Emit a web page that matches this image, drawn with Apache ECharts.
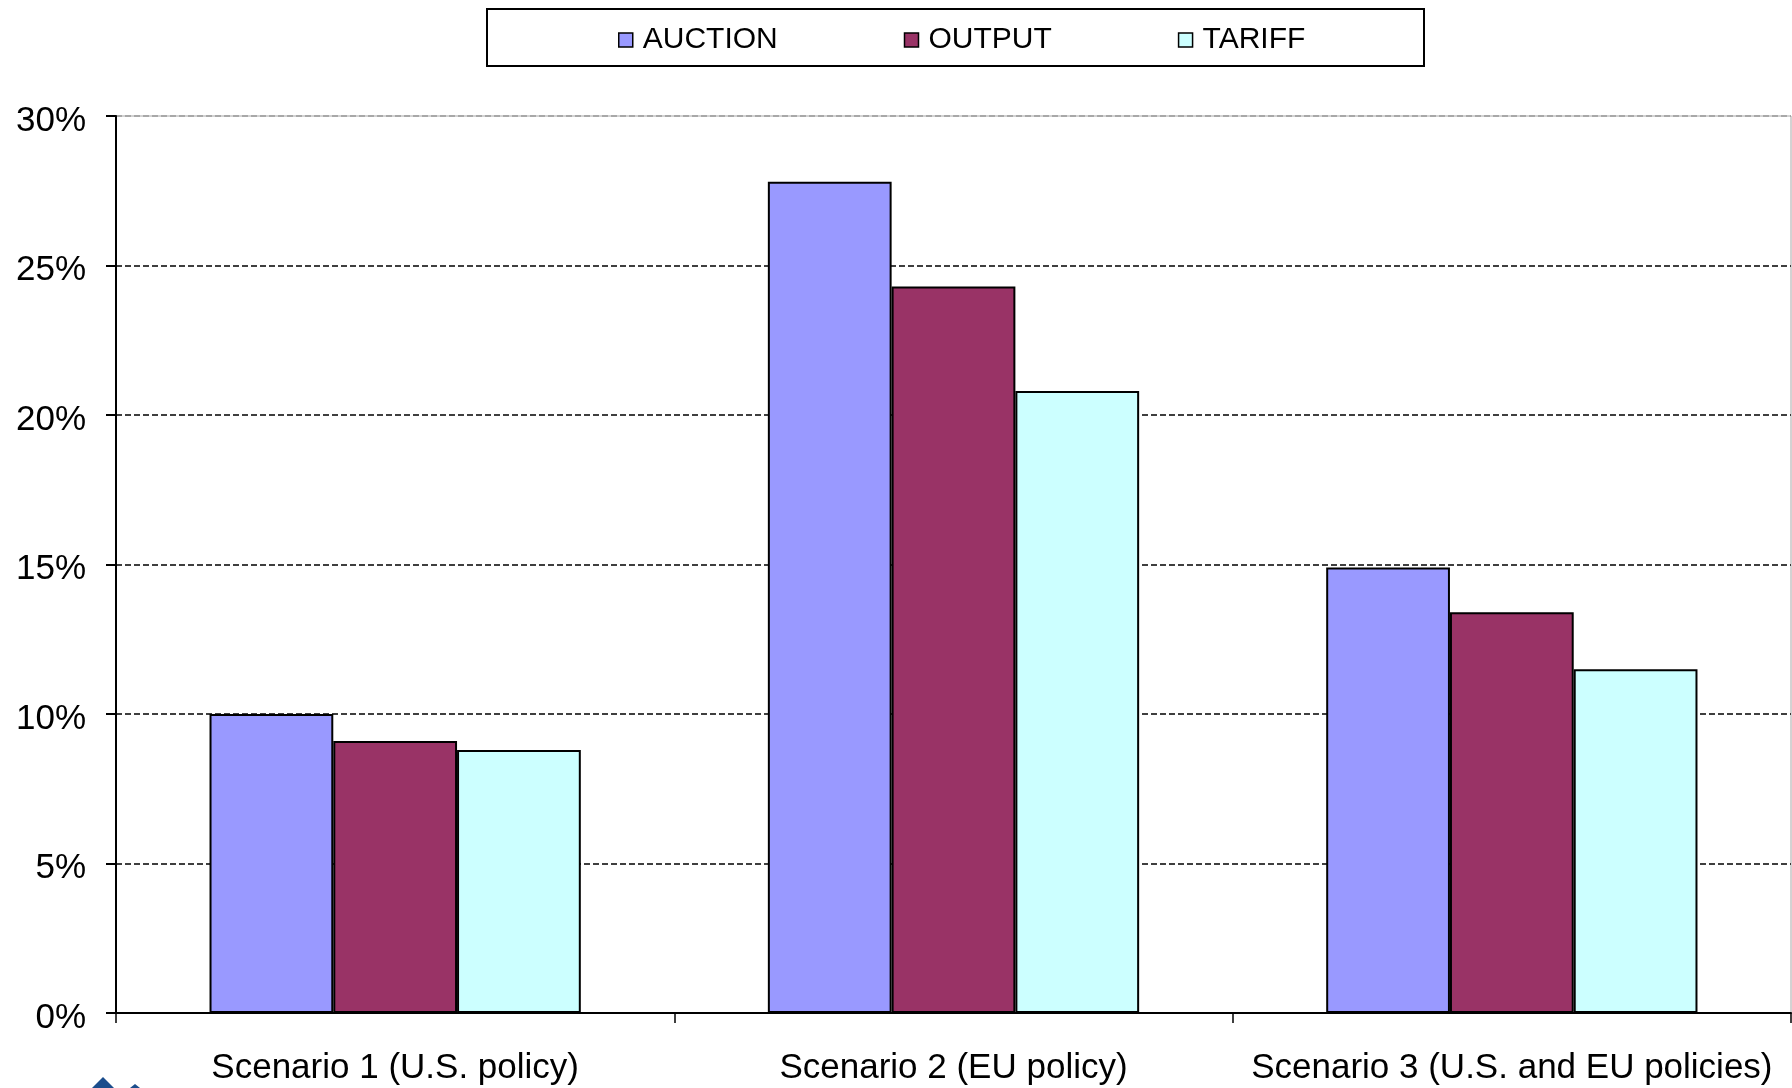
<!DOCTYPE html>
<html>
<head>
<meta charset="utf-8">
<script src="https://cdn.jsdelivr.net/npm/echarts@6/dist/echarts.min.js"></script>
<style>
  html, body { margin: 0; padding: 0; background: #fff; }
  #chart { width: 1792px; height: 1088px; }
</style>
</head>
<body>
<div id="chart"></div>
<script>
// Scenario categories and the three policy series (percent)
const categories = ['Scenario 1 (U.S. policy)', 'Scenario 2 (EU policy)', 'Scenario 3 (U.S. and EU policies)'];
const auction = [10.0, 27.8, 14.9];
const output = [9.1, 24.3, 13.4];
const tariff = [8.8, 20.8, 11.5];
const seriesNames = ['AUCTION', 'OUTPUT', 'TARIFF'];
const seriesColors = ['#9999FF', '#993366', '#CCFFFF'];
const seriesValues = [auction, output, tariff];

const FONT = '"Liberation Sans", Arial, sans-serif';

const chart = echarts.init(document.getElementById('chart'), null, { renderer: 'canvas' });

// dashed gridlines are black, the top edge at 30% is grey
const gridColors = ['#000', '#000', '#000', '#000', '#000', '#000', '#9a9a9a'];

chart.setOption({
  backgroundColor: '#ffffff',
  animation: false,
  textStyle: { fontFamily: FONT, color: '#000' },
  graphic: [
    {
      type: 'rect',
      left: 486, top: 8,
      shape: { width: 937, height: 57 },
      style: { fill: '#fff', stroke: '#000', lineWidth: 2 },
      z: -1
    },
    {
      type: 'polygon',
      shape: { points: [[92, 1088], [103, 1077], [114, 1088]] },
      style: { fill: '#1b4d8c' }
    },
    {
      type: 'polygon',
      shape: { points: [[130, 1088], [135, 1084], [140, 1088]] },
      style: { fill: '#1b4d8c' }
    }
  ],
  legend: {
    left: 618,
    top: 25,
    padding: 0,
    itemWidth: 14,
    itemHeight: 14,
    itemGap: 126,
    icon: 'rect',
    data: seriesNames,
    itemStyle: { borderColor: '#000', borderWidth: 1.5 },
    textStyle: { fontFamily: FONT, fontSize: 30, color: '#000', padding: [0, 0, 0, 5], lineHeight: 30 }
  },
  grid: {
    left: 116,
    right: 1,
    top: 116,
    bottom: 75,
    show: true,
    borderColor: '#a6a6a6',
    borderWidth: 1,
    containLabel: false
  },
  xAxis: {
    type: 'category',
    data: categories,
    axisLine: { show: true, lineStyle: { color: '#000', width: 2 } },
    axisTick: { show: true, length: 10, alignWithLabel: false, lineStyle: { color: '#000', width: 1.5 } },
    axisLabel: { fontFamily: FONT, fontSize: 35, color: '#000', margin: 38, interval: 0 },
    splitLine: { show: false }
  },
  yAxis: {
    type: 'value',
    min: 0,
    max: 30,
    interval: 5,
    axisLine: { show: true, lineStyle: { color: '#000', width: 2 } },
    axisTick: { show: true, length: 10, lineStyle: { color: '#000', width: 2 } },
    axisLabel: {
      color: '#000',
      margin: 30,
      formatter: '{p|{value}%}',
      rich: { p: { fontFamily: FONT, fontSize: 35, color: '#000', padding: [10, 0, 0, 0] } }
    },
    splitLine: { show: true, lineStyle: { color: gridColors, width: 1.5, type: [6, 3] } }
  },
  series: seriesNames.map((name, i) => ({
    name: name,
    type: 'bar',
    data: seriesValues[i],
    barGap: '0%',
    barCategoryGap: '33.5%',
    itemStyle: { color: seriesColors[i], borderColor: '#000', borderWidth: 2 }
  }))
});
</script>
</body>
</html>
